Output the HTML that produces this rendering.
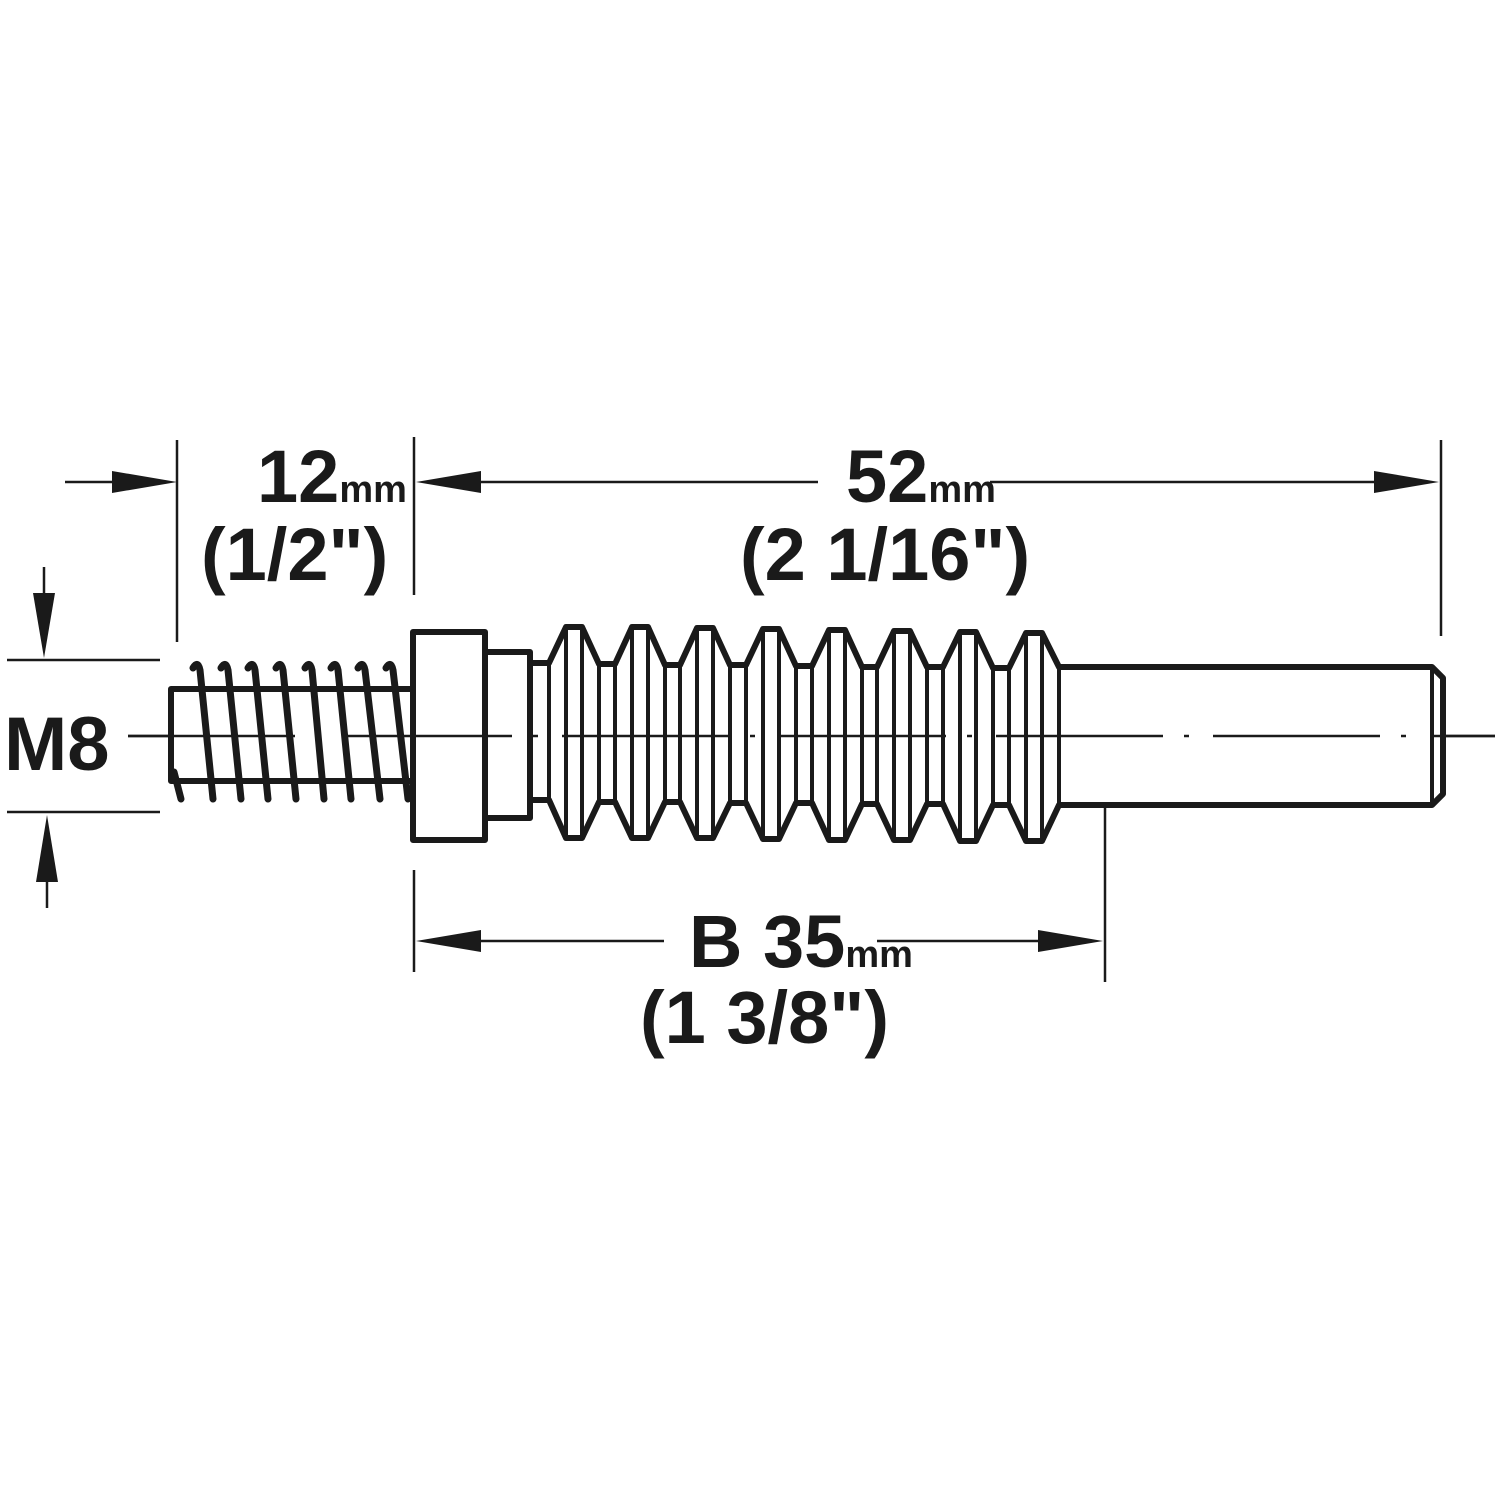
<!DOCTYPE html>
<html><head><meta charset="utf-8"><style>
html,body{margin:0;padding:0;background:#fff;}
svg{display:block;}
text{font-family:"Liberation Sans",Arial,sans-serif;font-weight:bold;fill:#1a1a1a;}
</style></head><body>
<svg width="1500" height="1500" viewBox="0 0 1500 1500" xmlns="http://www.w3.org/2000/svg">
<rect width="1500" height="1500" fill="#fff"/>
<g stroke="#1a1a1a" fill="none">
<line x1="128" y1="736" x2="1495" y2="736" stroke-width="2.5" stroke-dasharray="167 21 5 24"/>
<g stroke-width="2.5">
<line x1="177" y1="440" x2="177" y2="642"/>
<line x1="414" y1="437" x2="414" y2="595"/>
<line x1="1441" y1="440" x2="1441" y2="636"/>
<line x1="414" y1="870" x2="414" y2="972"/>
<line x1="1105" y1="705" x2="1105" y2="982"/>
<line x1="7" y1="660" x2="160" y2="660"/>
<line x1="7" y1="812" x2="160" y2="812"/>
<line x1="65" y1="482" x2="150" y2="482"/>
<line x1="450" y1="482" x2="818" y2="482"/>
<line x1="990" y1="482" x2="1400" y2="482"/>
<line x1="450" y1="941" x2="664" y2="941"/>
<line x1="877" y1="941" x2="1070" y2="941"/>
<line x1="44" y1="567" x2="44" y2="620"/>
<line x1="47" y1="850" x2="47" y2="908"/>
</g>
</g>
<g fill="#1a1a1a">
<polygon points="177,482 112,471 112,493"/>
<polygon points="416,482 481,471 481,493"/>
<polygon points="1439,482 1374,471 1374,493"/>
<polygon points="416,941 481,930 481,952"/>
<polygon points="1103,941 1038,930 1038,952"/>
<polygon points="44,658 33,593 55,593"/>
<polygon points="47,815 36,882 58,882"/>
</g>
<g stroke="#1a1a1a" stroke-width="6" fill="#fff" stroke-linejoin="round">
<rect x="171" y="689" width="242" height="92"/>
<path d="M530 663 L549 663 L566 627 L582 627 L599 664 L615 664 L632 627 L648 627 L665 665 L680 665 L697 628 L713 628 L730 665 L746 665 L763 629 L779 629 L796 666 L812 666 L829 630 L845 630 L862 667 L877 667 L894 631 L910 631 L927 667 L943 667 L960 632 L976 632 L993 668 L1009 668 L1026 633 L1042 633 L1059 667 L1432 667 L1443 678 L1443 794 L1432 805 L1059 805 L1042 841 L1026 841 L1009 805 L993 805 L976 841 L960 841 L943 804 L927 804 L910 840 L894 840 L877 804 L862 804 L845 840 L829 840 L812 803 L796 803 L779 839 L763 839 L746 803 L730 803 L713 838 L697 838 L680 802 L665 802 L648 838 L632 838 L615 802 L599 802 L582 838 L566 838 L549 800 L530 800 Z"/>
<rect x="485" y="652" width="45" height="166"/>
<rect x="413" y="632" width="72" height="208"/>
</g>
<g stroke="#1a1a1a" stroke-width="4">
<line x1="549" y1="663" x2="549" y2="800"/><line x1="566" y1="627" x2="566" y2="838"/><line x1="582" y1="627" x2="582" y2="838"/><line x1="599" y1="664" x2="599" y2="802"/>
<line x1="615" y1="664" x2="615" y2="802"/><line x1="632" y1="627" x2="632" y2="838"/><line x1="648" y1="627" x2="648" y2="838"/><line x1="665" y1="665" x2="665" y2="802"/>
<line x1="680" y1="665" x2="680" y2="802"/><line x1="697" y1="628" x2="697" y2="838"/><line x1="713" y1="628" x2="713" y2="838"/><line x1="730" y1="665" x2="730" y2="803"/>
<line x1="746" y1="665" x2="746" y2="803"/><line x1="763" y1="629" x2="763" y2="839"/><line x1="779" y1="629" x2="779" y2="839"/><line x1="796" y1="666" x2="796" y2="803"/>
<line x1="812" y1="666" x2="812" y2="803"/><line x1="829" y1="630" x2="829" y2="840"/><line x1="845" y1="630" x2="845" y2="840"/><line x1="862" y1="667" x2="862" y2="804"/>
<line x1="877" y1="667" x2="877" y2="804"/><line x1="894" y1="631" x2="894" y2="840"/><line x1="910" y1="631" x2="910" y2="840"/><line x1="927" y1="667" x2="927" y2="804"/>
<line x1="943" y1="667" x2="943" y2="805"/><line x1="960" y1="632" x2="960" y2="841"/><line x1="976" y1="632" x2="976" y2="841"/><line x1="993" y1="668" x2="993" y2="805"/>
<line x1="1009" y1="668" x2="1009" y2="805"/><line x1="1026" y1="633" x2="1026" y2="841"/><line x1="1042" y1="633" x2="1042" y2="841"/><line x1="1059" y1="667" x2="1059" y2="805"/>
<line x1="1432" y1="667" x2="1432" y2="805"/>
</g>
<line x1="128" y1="736" x2="1495" y2="736" stroke="#1a1a1a" stroke-width="2.5" stroke-dasharray="167 21 5 24"/>
<g stroke="#1a1a1a" stroke-width="7" fill="none" stroke-linecap="round">
<path d="M174 772 L181 799"/>
<path d="M193 668 Q198 660 200 670 L213 799"/>
<path d="M221 668 Q226 660 228 670 L241 799"/>
<path d="M248 668 Q253 660 255 670 L268 799"/>
<path d="M276 668 Q281 660 283 670 L296 799"/>
<path d="M305 668 Q310 660 312 670 L324 799"/>
<path d="M331 668 Q336 660 338 670 L351 799"/>
<path d="M358 668 Q363 660 365 670 L380 799"/>
<path d="M386 668 Q391 660 393 670 L408 799"/>
</g>
<text x="257" y="502" font-size="74">12<tspan font-size="38">mm</tspan></text>
<text x="201" y="580" font-size="74">(1/2")</text>
<text x="846" y="502" font-size="74">52<tspan font-size="38">mm</tspan></text>
<text x="740" y="580" font-size="74">(2 1/16")</text>
<text x="689" y="967" font-size="74">B 35<tspan font-size="38">mm</tspan></text>
<text x="640" y="1043" font-size="74">(1 3/8")</text>
<text x="4" y="770" font-size="76">M8</text>
</svg>
</body></html>
